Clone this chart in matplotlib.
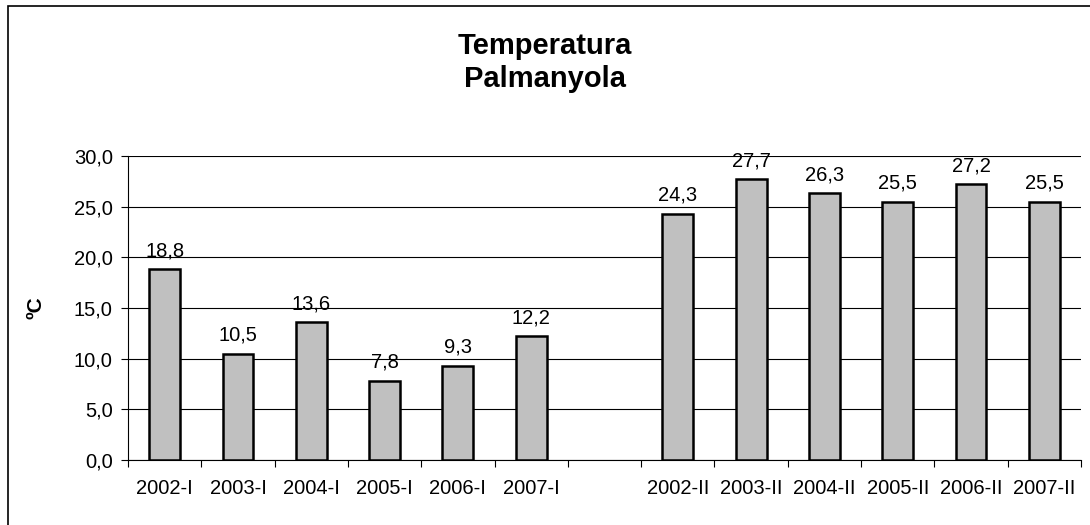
import numpy as np
import matplotlib.pyplot as plt
from matplotlib.patches import Rectangle

plt.rcParams['font.family'] = ['Liberation Sans', 'DejaVu Sans']

labels = ['2002-I', '2003-I', '2004-I', '2005-I', '2006-I', '2007-I', '',
          '2002-II', '2003-II', '2004-II', '2005-II', '2006-II', '2007-II']
temps = [18.8, 10.5, 13.6, 7.8, 9.3, 12.2, np.nan,
         24.3, 27.7, 26.3, 25.5, 27.2, 25.5]

fig = plt.figure(figsize=(10.9, 5.25), dpi=100)
ax = fig.add_axes([128/1090, 65/525, 953/1090, 304/525])

# frame round the whole chart (right and bottom edges run off the picture)
fig.patches.append(Rectangle((8/1090, -10/525), 1100/1090, 529/525, transform=fig.transFigure,
                             fill=False, edgecolor='black', linewidth=1.2))

x = np.arange(len(labels))
ax.bar(x, temps, width=0.42, color='#c0c0c0', edgecolor='black', linewidth=1.8, zorder=3)
for xi, v in zip(x, temps):
    if not np.isnan(v):
        ax.text(xi, v + 0.9, f'{v:.1f}'.replace('.', ','), ha='center', va='bottom', fontsize=14.5)

ax.set_xlim(-0.5, len(labels) - 0.5)
ax.set_ylim(0, 30)
ax.set_yticks(np.arange(0, 31, 5))
ax.set_yticklabels([f'{t:.1f}'.replace('.', ',') for t in np.arange(0, 31, 5)], fontsize=14.5)
ax.yaxis.grid(True, color='black', linewidth=0.8, zorder=0)

ax.set_xticks(np.arange(len(labels) + 1) - 0.5, minor=False)
ax.set_xticklabels([])
ax.set_xticks(x, minor=True)
ax.set_xticklabels(labels, minor=True, fontsize=14.5)
ax.tick_params(axis='x', which='minor', length=0, pad=14)
ax.tick_params(axis='x', which='major', length=5, direction='out')
ax.tick_params(axis='y', length=5, direction='out', pad=6)

for s in ['top', 'right']:
    ax.spines[s].set_visible(False)
ax.spines['left'].set_linewidth(0.8)
ax.spines['bottom'].set_linewidth(0.8)

ax.set_ylabel('ºC', fontsize=15, fontweight='bold', labelpad=20)
fig.text(0.5, 0.94, 'Temperatura\nPalmanyola', ha='center', va='top', fontsize=21,
         fontweight='bold', linespacing=1.25)

fig.savefig('out.png', dpi=100)
